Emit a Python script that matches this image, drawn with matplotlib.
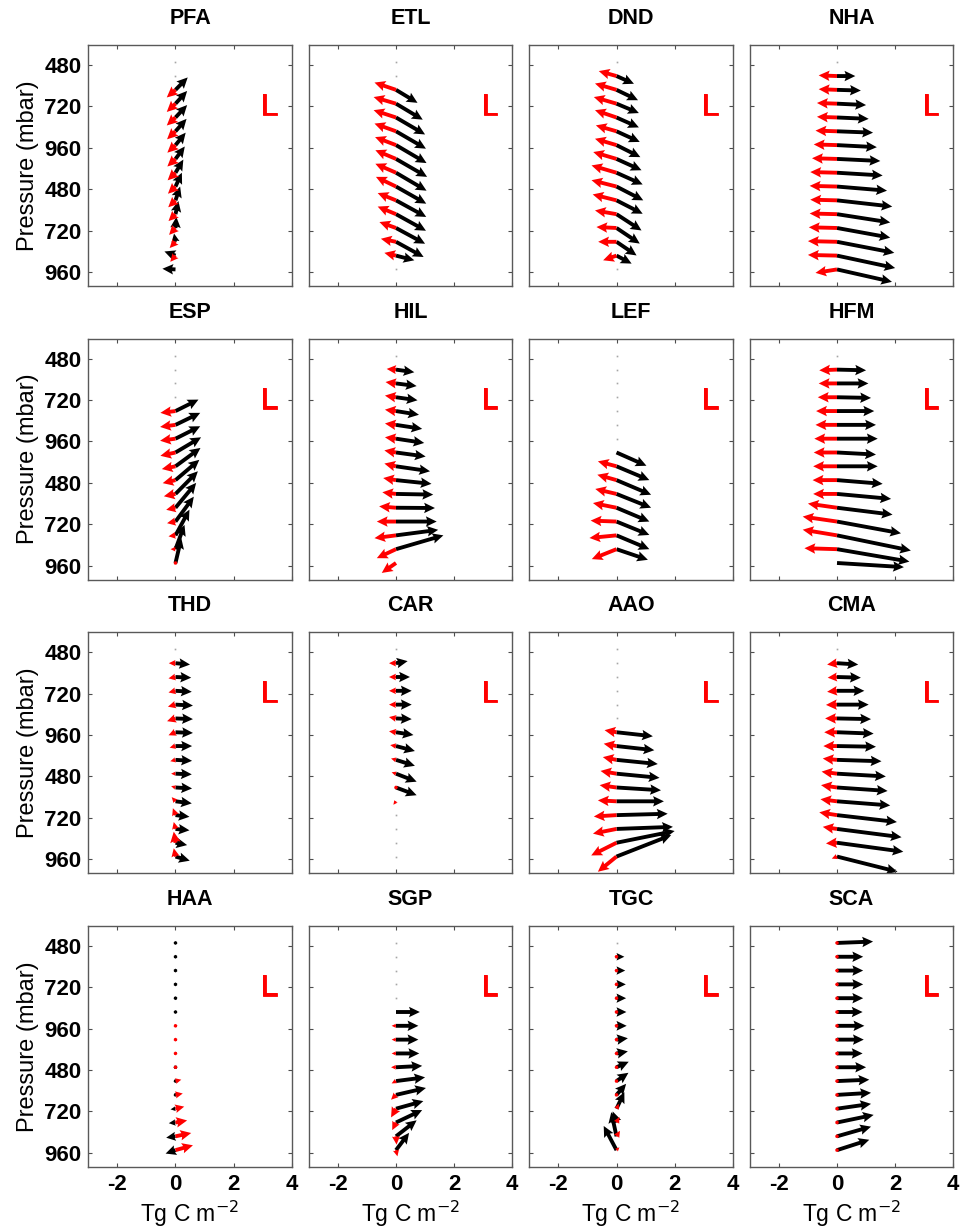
import numpy as np
import matplotlib.pyplot as plt
import matplotlib.patheffects as pe

plt.rcParams['font.family'] = ['Liberation Sans', 'DejaVu Sans']

nan = np.nan
levels = np.arange(1, 17)
ytick_labels = ['480', '720', '960', '480', '720', '960']
xticks = [-2, 0, 2, 4]

# red (ru, rv) and black (bu, bv) vectors per level, top level first
pfa_ru = [0, 0, -0.30, -0.30, -0.30, -0.29, -0.28, -0.28, -0.27, -0.26, -0.25, -0.24, -0.22, -0.20, -0.18, 0]
pfa_rv = [0, 0, 0.55, 0.60, 0.58, 0.58, 0.55, 0.55, 0.55, 0.52, 0.50, 0.50, 0.50, 0.45, 0.45, 0]
pfa_bu = [0, 0, 0.42, 0.40, 0.40, 0.38, 0.35, 0.32, 0.27, 0.22, 0.16, 0.10, 0.03, -0.05, -0.38, -0.45]
pfa_bv = [0, 0, -0.90, -0.92, -0.90, -0.90, -0.90, -0.90, -0.95, -1.00, -1.00, -0.95, -0.80, -0.60, -0.30, -0.05]

etl_ru = [0, 0, -0.74, -0.77, -0.77, -0.74, -0.72, -0.71, -0.71, -0.69, -0.63, -0.63, -0.57, -0.52, -0.40, 0]
etl_rv = [0, 0, -0.53, -0.48, -0.53, -0.56, -0.58, -0.63, -0.65, -0.70, -0.53, -0.55, -0.43, -0.22, -0.20, 0]
etl_bu = [0, 0, 0.74, 0.92, 1.00, 1.03, 1.05, 1.07, 1.05, 1.04, 1.04, 1.03, 1.00, 0.95, 0.63, 0]
etl_bv = [0, 0, 0.94, 1.16, 1.23, 1.26, 1.30, 1.30, 1.30, 1.24, 1.20, 1.20, 1.14, 1.10, 0.34, 0]

dnd_ru = [0, -0.61, -0.74, -0.78, -0.74, -0.71, -0.74, -0.80, -0.86, -0.86, -0.82, -0.74, -0.69, -0.63, -0.46, 0]
dnd_rv = [0, -0.36, -0.46, -0.48, -0.53, -0.43, -0.46, -0.50, -0.53, -0.46, -0.43, -0.27, -0.07, 0.0, 0.34, 0]
dnd_bu = [0, 0.60, 0.74, 0.77, 0.77, 0.80, 0.82, 0.86, 0.90, 0.92, 0.90, 0.86, 0.80, 0.69, 0.52, 0]
dnd_bv = [0, 0.56, 0.75, 0.68, 0.72, 0.77, 0.87, 0.82, 0.85, 1.00, 0.97, 1.18, 1.13, 0.99, 0.58, 0]

nha_ru = [0, -0.63, -0.63, -0.69, -0.69, -0.74, -0.80, -0.86, -0.92, -0.94, -0.92, -0.94, -0.97, -1.00, -1.00, -0.74]
nha_rv = [0, -0.05, -0.05, -0.05, -0.05, -0.05, -0.05, -0.05, -0.05, -0.05, -0.05, -0.05, -0.05, -0.05, -0.05, 0.25]
nha_bu = [0, 0.63, 0.82, 1.00, 1.09, 1.24, 1.37, 1.49, 1.57, 1.72, 1.90, 1.83, 1.83, 1.97, 2.00, 1.89]
nha_bv = [0, 0.0, 0.05, 0.10, 0.10, 0.10, 0.15, 0.15, 0.20, 0.30, 0.45, 0.60, 0.70, 0.80, 0.90, 0.90]

esp_ru = [0, 0, 0, 0, -0.52, -0.53, -0.53, -0.52, -0.47, -0.44, -0.40, -0.32, -0.29, -0.24, -0.17, -0.13]
esp_rv = [0, 0, 0, 0, 0.13, 0.15, 0.15, 0.24, 0.20, 0.22, 0.17, 0.15, 0.12, 0.07, 0.0, 0.0]
esp_bu = [0, 0, 0, 0, 0.79, 0.85, 0.85, 0.88, 0.86, 0.82, 0.77, 0.71, 0.63, 0.48, 0.31, 0.20]
esp_bv = [0, 0, 0, 0, -0.83, -0.87, -0.90, -1.10, -1.33, -1.47, -1.64, -1.80, -1.80, -1.86, -1.76, -1.80]

hil_ru = [0, -0.32, -0.36, -0.38, -0.38, -0.38, -0.38, -0.40, -0.40, -0.44, -0.47, -0.58, -0.66, -0.74, -0.66, -0.49]
hil_rv = [0, -0.05, -0.10, -0.12, -0.10, -0.10, -0.10, -0.15, -0.20, -0.15, -0.12, -0.10, 0.0, 0.20, 0.65, 0.72]
hil_bu = [0, 0.63, 0.71, 0.74, 0.79, 0.90, 0.97, 1.02, 1.17, 1.22, 1.28, 1.34, 1.40, 1.45, 1.63, 0]
hil_bv = [0, 0.19, 0.19, 0.22, 0.27, 0.29, 0.31, 0.29, 0.36, 0.27, 0.05, 0.02, 0.0, -0.40, -1.00, 0]

lef_ru = [0, 0, 0, 0, 0, 0, 0, 0, -0.64, -0.66, -0.73, -0.81, -0.89, -0.93, -0.85, nan]
lef_rv = [0, 0, 0, 0, 0, 0, 0, 0, -0.36, -0.39, -0.36, -0.34, -0.07, 0.19, 0.72, nan]
lef_bu = [0, 0, 0, 0, 0, 0, 0, 1.03, 1.13, 1.19, 1.19, 1.13, 1.13, 1.13, 1.08, nan]
lef_bv = [0, 0, 0, 0, 0, 0, 0, 0.96, 1.00, 1.06, 1.00, 1.00, 0.97, 1.00, 0.77, nan]

hfm_ru = [0, -0.61, -0.63, -0.66, -0.72, -0.74, -0.78, -0.80, -0.82, -0.84, -0.82, -1.00, -1.18, -1.18, -1.12, 0]
hfm_rv = [0, 0.05, 0, 0, 0, 0, 0, 0, 0, 0, 0, -0.30, -0.36, -0.41, -0.07, 0]
hfm_bu = [0, 1.00, 1.08, 1.17, 1.28, 1.34, 1.40, 1.34, 1.40, 1.57, 1.86, 1.91, 2.20, 2.54, 2.49, 2.30]
hfm_bv = [0, 0.05, 0, 0.05, 0, 0, 0, 0.15, 0, 0.27, 0.36, 0.50, 0.85, 1.10, 0.90, 0.30]

thd_ru = [0, -0.23, -0.24, -0.24, -0.26, -0.29, -0.24, -0.20, -0.18, -0.15, -0.15, -0.13, -0.09, -0.06, -0.06, -0.06]
thd_rv = [0, 0, 0.10, 0.12, 0.15, 0.20, 0.22, 0.12, 0.10, 0, -0.10, -0.30, -0.50, -0.50, -0.80, -0.60]
thd_bu = [0, 0.50, 0.54, 0.56, 0.60, 0.60, 0.60, 0.57, 0.57, 0.56, 0.57, 0.56, 0.48, 0.48, 0.40, 0.49]
thd_bv = [0, 0.10, 0.05, 0.07, 0.07, 0.05, 0.05, 0, 0.07, 0.05, 0.07, 0.15, 0.12, 0.10, 0.17, 0.30]

car_ru = [0, -0.24, -0.24, -0.24, -0.24, -0.24, -0.24, -0.20, -0.17, -0.15, -0.09, -0.09, 0, 0, 0, 0]
car_rv = [0, 0, 0, 0, 0, -0.10, -0.07, -0.07, -0.10, -0.10, -0.05, 0.25, 0, 0, 0, 0]
car_bu = [0, 0.40, 0.48, 0.54, 0.54, 0.54, 0.60, 0.65, 0.65, 0.71, 0.71, 0, 0, 0, 0, 0]
car_bv = [0, -0.15, 0, 0, 0, 0.05, 0.20, 0.36, 0.43, 0.58, 0.56, 0, 0, 0, 0, 0]

aao_ru = [0, 0, 0, 0, 0, 0, -0.41, -0.44, -0.47, -0.55, -0.58, -0.64, -0.78, -0.81, -0.87, -0.64]
aao_rv = [0, 0, 0, 0, 0, 0, -0.15, -0.17, -0.20, -0.20, -0.17, -0.07, 0.10, 0.34, 0.92, 1.10]
aao_bu = [0, 0, 0, 0, 0, 0, 1.25, 1.30, 1.42, 1.48, 1.53, 1.63, 1.76, 1.94, 2.00, 1.88]
aao_bv = [0, 0, 0, 0, 0, 0, 0.29, 0.30, 0.30, 0.30, 0.20, 0, -0.10, -0.15, -0.85, -1.55]

cma_ru = [0, -0.34, -0.32, -0.34, -0.38, -0.41, -0.44, -0.47, -0.49, -0.53, -0.55, -0.57, -0.61, -0.49, -0.38, -0.18]
cma_rv = [0, 0.10, 0.05, 0.07, 0.02, 0, 0, 0, -0.10, -0.15, -0.17, -0.15, -0.20, -0.15, 0.05, 0.15]
cma_bu = [0, 0.73, 0.82, 0.94, 1.09, 1.17, 1.26, 1.34, 1.53, 1.68, 1.74, 1.83, 2.06, 2.22, 2.28, 2.08]
cma_bv = [0, 0.10, 0.05, 0, 0, 0.05, 0.10, 0.05, 0.10, 0.20, 0.25, 0.30, 0.50, 0.60, 0.65, 1.10]

haa_ru = [0, 0, 0, 0, 0, 0, 0.05, 0.06, 0.08, 0.10, 0.20, 0.25, 0.30, 0.40, 0.54, 0.60]
haa_rv = [0, 0, 0, 0, 0, 0, 0.10, 0.10, 0.05, -0.05, -0.10, -0.10, -0.15, -0.15, -0.24, -0.35]
haa_bu = [0.10, 0.10, 0.10, 0.08, 0.06, 0.05, 0, 0, 0, -0.05, -0.08, -0.13, -0.17, -0.23, -0.32, -0.34]
haa_bv = [0.10, 0.10, 0.10, 0.10, 0.10, 0.05, 0, 0, 0, 0, 0.05, 0.05, 0.05, 0.05, 0.10, 0.25]

sgp_ru = [0, 0, 0, 0, 0, 0, -0.15, -0.15, -0.15, -0.17, -0.15, -0.17, -0.17, -0.13, 0.02, 0.05]
sgp_rv = [0, 0, 0, 0, 0, 0, 0, 0, 0, 0, 0.17, 0.35, 0.63, 0.55, 0.60, 0.45]
sgp_bu = [0, 0, 0, 0, 0, 0.82, 0.77, 0.77, 0.80, 0.90, 1.00, 1.03, 0.94, 0.90, 0.71, 0.45]
sgp_bv = [0, 0, 0, 0, 0, 0, 0, 0, 0, -0.10, -0.27, -0.50, -0.55, -0.90, -1.16, -1.25]

tgc_ru = [0, -0.07, -0.07, -0.07, -0.07, -0.07, -0.07, -0.07, -0.07, -0.07, -0.05, 0.05, 0.08, 0.10, 0.12, 0.10]
tgc_rv = [0, 0, 0, 0, 0, 0, 0, 0, 0, 0, 0, -0.20, -0.35, -0.40, -0.40, -0.20]
tgc_bu = [0, 0.27, 0.30, 0.32, 0.33, 0.34, 0.35, 0.39, 0.39, 0.42, 0.41, 0.33, 0.27, -0.13, -0.18, -0.44]
tgc_bv = [0, 0, 0, 0, 0, 0, 0, -0.10, -0.15, -0.40, -0.60, -0.80, -1.20, -0.80, -1.75, -1.75]

sca_ru = [-0.08, -0.08, -0.08, -0.08, -0.08, -0.08, -0.08, -0.08, -0.08, -0.08, -0.08, -0.08, -0.06, -0.04, -0.02, -0.02]
sca_rv = [0, 0, 0, 0, 0, 0.05, 0.05, 0.05, 0.05, 0.05, 0.05, 0.05, 0.05, 0.05, 0.05, 0.05]
sca_bu = [1.24, 0.90, 0.90, 0.90, 0.90, 0.88, 0.94, 0.92, 0.88, 1.00, 1.11, 1.17, 1.17, 1.26, 1.17, 1.11]
sca_bv = [-0.10, 0, 0, 0, 0, 0, 0, 0, 0, 0, -0.10, -0.15, -0.35, -0.55, -0.70, -0.75]

stations = [
    ('PFA', pfa_ru, pfa_rv, pfa_bu, pfa_bv), ('ETL', etl_ru, etl_rv, etl_bu, etl_bv),
    ('DND', dnd_ru, dnd_rv, dnd_bu, dnd_bv), ('NHA', nha_ru, nha_rv, nha_bu, nha_bv),
    ('ESP', esp_ru, esp_rv, esp_bu, esp_bv), ('HIL', hil_ru, hil_rv, hil_bu, hil_bv),
    ('LEF', lef_ru, lef_rv, lef_bu, lef_bv), ('HFM', hfm_ru, hfm_rv, hfm_bu, hfm_bv),
    ('THD', thd_ru, thd_rv, thd_bu, thd_bv), ('CAR', car_ru, car_rv, car_bu, car_bv),
    ('AAO', aao_ru, aao_rv, aao_bu, aao_bv), ('CMA', cma_ru, cma_rv, cma_bu, cma_bv),
    ('HAA', haa_ru, haa_rv, haa_bu, haa_bv), ('SGP', sgp_ru, sgp_rv, sgp_bu, sgp_bv),
    ('TGC', tgc_ru, tgc_rv, tgc_bu, tgc_bv), ('SCA', sca_ru, sca_rv, sca_bu, sca_bv),
]

fig, axes = plt.subplots(4, 4, figsize=(9.69, 12.32), dpi=100)
fig.subplots_adjust(left=0.0911, right=0.9838, top=0.9635, bottom=0.053,
                    wspace=0.0835, hspace=0.218)

y0 = levels - 0.2  # arrow tails sit just above each level

for k, (ax, (name, ru, rv, bu, bv)) in enumerate(zip(axes.flat, stations)):
    row, col = divmod(k, 4)
    ru, rv, bu, bv = (np.asarray(a, dtype=float) for a in (ru, rv, bu, bv))

    # zero vectors show up as faint dots along x = 0
    still = (ru == 0) & (rv == 0) & (bu == 0) & (bv == 0)
    ax.plot(np.zeros(still.sum()), y0[still], 's', color='0.65', ms=1.2, mew=0)

    for u, v, c in ((bu, bv, 'black'), (ru, rv, 'red')):
        m = np.isfinite(u) & ((u != 0) | (v != 0))
        ax.quiver(np.zeros(m.sum()), y0[m], u[m], v[m], color=c,
                  angles='xy', scale_units='xy', scale=1,
                  width=0.019, headwidth=2.7, headlength=2.8, headaxislength=2.5)

    ax.text(2.93, 4.62, 'L', color='red', fontsize=22, ha='left', va='baseline',
            path_effects=[pe.withStroke(linewidth=0.6, foreground='red')])

    ax.set_xlim(-3, 4)
    ax.set_ylim(17.0, -0.45)
    ax.set_xticks(xticks)
    ax.set_yticks(levels[::3])
    ax.tick_params(direction='in', length=3, top=True, right=True, pad=5,
                   color='0.3', labelsize=16)
    for s in ax.spines.values():
        s.set_color('0.35')
        s.set_linewidth(1.0)

    if col == 0:
        ax.set_yticklabels(ytick_labels, fontweight='bold')
        ax.set_ylabel('Pressure (mbar)', fontsize=17, labelpad=4)
    else:
        ax.set_yticklabels([])
    if row == 3:
        ax.set_xticklabels([str(t) for t in xticks], fontweight='bold')
        ax.set_xlabel('Tg C m$^{-2}$', fontsize=16.5, labelpad=3)
    else:
        ax.set_xticklabels([])

    ax.set_title(name, fontsize=15.5, fontweight='bold', pad=15)

fig.savefig('out.png', dpi=100)
